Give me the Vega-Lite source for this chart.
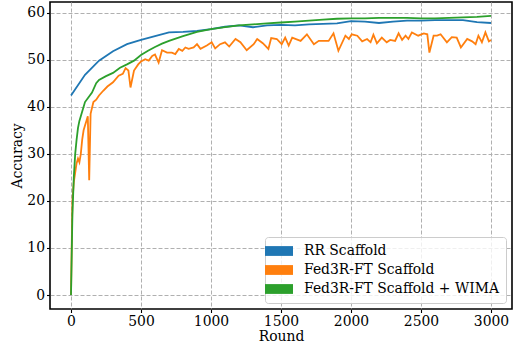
{
  "$schema": "https://vega.github.io/schema/vega-lite/v6.json",
  "width": 462,
  "height": 307,
  "autosize": {"type": "none"},
  "padding": {"left": 50, "top": 2, "right": 2, "bottom": 39},
  "background": "white",
  "data": {"values": [
    {"m":"RR Scaffold","r":0,"a":42.4},{"m":"RR Scaffold","r":100,"a":46.8},{"m":"RR Scaffold","r":200,"a":49.8},{"m":"RR Scaffold","r":300,"a":51.8},{"m":"RR Scaffold","r":400,"a":53.3},{"m":"RR Scaffold","r":500,"a":54.2},{"m":"RR Scaffold","r":600,"a":55.0},{"m":"RR Scaffold","r":700,"a":55.8},{"m":"RR Scaffold","r":800,"a":55.9},{"m":"RR Scaffold","r":900,"a":56.1},{"m":"RR Scaffold","r":1000,"a":56.5},{"m":"RR Scaffold","r":1100,"a":57.0},{"m":"RR Scaffold","r":1200,"a":57.3},{"m":"RR Scaffold","r":1300,"a":56.9},{"m":"RR Scaffold","r":1400,"a":57.3},{"m":"RR Scaffold","r":1500,"a":57.4},{"m":"RR Scaffold","r":1600,"a":57.3},{"m":"RR Scaffold","r":1700,"a":57.5},{"m":"RR Scaffold","r":1800,"a":57.6},{"m":"RR Scaffold","r":1900,"a":57.7},{"m":"RR Scaffold","r":2000,"a":58.2},{"m":"RR Scaffold","r":2100,"a":58.1},{"m":"RR Scaffold","r":2200,"a":57.8},{"m":"RR Scaffold","r":2300,"a":58.1},{"m":"RR Scaffold","r":2400,"a":58.3},{"m":"RR Scaffold","r":2500,"a":58.3},{"m":"RR Scaffold","r":2600,"a":58.4},{"m":"RR Scaffold","r":2700,"a":58.4},{"m":"RR Scaffold","r":2800,"a":58.4},{"m":"RR Scaffold","r":2900,"a":58.0},{"m":"RR Scaffold","r":3000,"a":57.8},
    {"m":"Fed3R-FT Scaffold","r":0,"a":0},{"m":"Fed3R-FT Scaffold","r":10,"a":20},{"m":"Fed3R-FT Scaffold","r":20,"a":24},{"m":"Fed3R-FT Scaffold","r":30,"a":26},{"m":"Fed3R-FT Scaffold","r":40,"a":28},{"m":"Fed3R-FT Scaffold","r":50,"a":29},{"m":"Fed3R-FT Scaffold","r":60,"a":28.2},{"m":"Fed3R-FT Scaffold","r":70,"a":30},{"m":"Fed3R-FT Scaffold","r":80,"a":33},{"m":"Fed3R-FT Scaffold","r":90,"a":35},{"m":"Fed3R-FT Scaffold","r":100,"a":36},{"m":"Fed3R-FT Scaffold","r":110,"a":37},{"m":"Fed3R-FT Scaffold","r":120,"a":38},{"m":"Fed3R-FT Scaffold","r":130,"a":24.4},{"m":"Fed3R-FT Scaffold","r":140,"a":38.5},{"m":"Fed3R-FT Scaffold","r":160,"a":41},{"m":"Fed3R-FT Scaffold","r":180,"a":41.5},{"m":"Fed3R-FT Scaffold","r":200,"a":42.4},{"m":"Fed3R-FT Scaffold","r":230,"a":43.4},{"m":"Fed3R-FT Scaffold","r":260,"a":44.3},{"m":"Fed3R-FT Scaffold","r":300,"a":45.2},{"m":"Fed3R-FT Scaffold","r":340,"a":46.6},{"m":"Fed3R-FT Scaffold","r":370,"a":47.0},{"m":"Fed3R-FT Scaffold","r":390,"a":48.2},{"m":"Fed3R-FT Scaffold","r":410,"a":47.7},{"m":"Fed3R-FT Scaffold","r":425,"a":44.1},{"m":"Fed3R-FT Scaffold","r":450,"a":47.7},{"m":"Fed3R-FT Scaffold","r":480,"a":49.0},{"m":"Fed3R-FT Scaffold","r":500,"a":49.6},{"m":"Fed3R-FT Scaffold","r":530,"a":50.1},{"m":"Fed3R-FT Scaffold","r":555,"a":49.8},{"m":"Fed3R-FT Scaffold","r":580,"a":50.8},{"m":"Fed3R-FT Scaffold","r":600,"a":51.1},{"m":"Fed3R-FT Scaffold","r":626,"a":49.4},{"m":"Fed3R-FT Scaffold","r":650,"a":52.0},{"m":"Fed3R-FT Scaffold","r":686,"a":51.5},{"m":"Fed3R-FT Scaffold","r":720,"a":51.5},{"m":"Fed3R-FT Scaffold","r":745,"a":51.2},{"m":"Fed3R-FT Scaffold","r":770,"a":52.3},{"m":"Fed3R-FT Scaffold","r":795,"a":51.9},{"m":"Fed3R-FT Scaffold","r":817,"a":52.6},{"m":"Fed3R-FT Scaffold","r":840,"a":52.3},{"m":"Fed3R-FT Scaffold","r":876,"a":52.6},{"m":"Fed3R-FT Scaffold","r":900,"a":53.3},{"m":"Fed3R-FT Scaffold","r":925,"a":52.3},{"m":"Fed3R-FT Scaffold","r":970,"a":53.0},{"m":"Fed3R-FT Scaffold","r":1005,"a":53.7},{"m":"Fed3R-FT Scaffold","r":1030,"a":52.4},{"m":"Fed3R-FT Scaffold","r":1065,"a":53.3},{"m":"Fed3R-FT Scaffold","r":1100,"a":53.7},{"m":"Fed3R-FT Scaffold","r":1130,"a":52.8},{"m":"Fed3R-FT Scaffold","r":1175,"a":54.4},{"m":"Fed3R-FT Scaffold","r":1210,"a":53.7},{"m":"Fed3R-FT Scaffold","r":1255,"a":52.0},{"m":"Fed3R-FT Scaffold","r":1305,"a":53.3},{"m":"Fed3R-FT Scaffold","r":1330,"a":54.4},{"m":"Fed3R-FT Scaffold","r":1370,"a":53.5},{"m":"Fed3R-FT Scaffold","r":1410,"a":52.3},{"m":"Fed3R-FT Scaffold","r":1430,"a":54.6},{"m":"Fed3R-FT Scaffold","r":1470,"a":54.4},{"m":"Fed3R-FT Scaffold","r":1505,"a":53.3},{"m":"Fed3R-FT Scaffold","r":1530,"a":54.7},{"m":"Fed3R-FT Scaffold","r":1555,"a":53.0},{"m":"Fed3R-FT Scaffold","r":1580,"a":54.7},{"m":"Fed3R-FT Scaffold","r":1640,"a":54.0},{"m":"Fed3R-FT Scaffold","r":1685,"a":55.4},{"m":"Fed3R-FT Scaffold","r":1735,"a":53.3},{"m":"Fed3R-FT Scaffold","r":1770,"a":54.0},{"m":"Fed3R-FT Scaffold","r":1840,"a":54.0},{"m":"Fed3R-FT Scaffold","r":1875,"a":55.6},{"m":"Fed3R-FT Scaffold","r":1910,"a":51.9},{"m":"Fed3R-FT Scaffold","r":1960,"a":55.1},{"m":"Fed3R-FT Scaffold","r":1985,"a":54.4},{"m":"Fed3R-FT Scaffold","r":2005,"a":55.4},{"m":"Fed3R-FT Scaffold","r":2045,"a":55.1},{"m":"Fed3R-FT Scaffold","r":2080,"a":53.9},{"m":"Fed3R-FT Scaffold","r":2115,"a":54.4},{"m":"Fed3R-FT Scaffold","r":2140,"a":53.7},{"m":"Fed3R-FT Scaffold","r":2160,"a":55.3},{"m":"Fed3R-FT Scaffold","r":2185,"a":53.5},{"m":"Fed3R-FT Scaffold","r":2220,"a":54.7},{"m":"Fed3R-FT Scaffold","r":2255,"a":53.7},{"m":"Fed3R-FT Scaffold","r":2280,"a":54.2},{"m":"Fed3R-FT Scaffold","r":2315,"a":54.0},{"m":"Fed3R-FT Scaffold","r":2340,"a":55.6},{"m":"Fed3R-FT Scaffold","r":2365,"a":54.2},{"m":"Fed3R-FT Scaffold","r":2390,"a":55.1},{"m":"Fed3R-FT Scaffold","r":2410,"a":54.4},{"m":"Fed3R-FT Scaffold","r":2435,"a":55.8},{"m":"Fed3R-FT Scaffold","r":2480,"a":55.1},{"m":"Fed3R-FT Scaffold","r":2520,"a":55.6},{"m":"Fed3R-FT Scaffold","r":2545,"a":55.4},{"m":"Fed3R-FT Scaffold","r":2560,"a":51.5},{"m":"Fed3R-FT Scaffold","r":2590,"a":55.1},{"m":"Fed3R-FT Scaffold","r":2615,"a":55.1},{"m":"Fed3R-FT Scaffold","r":2640,"a":55.4},{"m":"Fed3R-FT Scaffold","r":2685,"a":53.7},{"m":"Fed3R-FT Scaffold","r":2720,"a":54.8},{"m":"Fed3R-FT Scaffold","r":2755,"a":54.7},{"m":"Fed3R-FT Scaffold","r":2785,"a":52.6},{"m":"Fed3R-FT Scaffold","r":2830,"a":54.4},{"m":"Fed3R-FT Scaffold","r":2865,"a":53.9},{"m":"Fed3R-FT Scaffold","r":2890,"a":53.3},{"m":"Fed3R-FT Scaffold","r":2910,"a":55.1},{"m":"Fed3R-FT Scaffold","r":2935,"a":53.7},{"m":"Fed3R-FT Scaffold","r":2960,"a":55.8},{"m":"Fed3R-FT Scaffold","r":2985,"a":53.9},{"m":"Fed3R-FT Scaffold","r":3000,"a":54.2},
    {"m":"Fed3R-FT Scaffold + WIMA","r":0,"a":0},{"m":"Fed3R-FT Scaffold + WIMA","r":10,"a":17},{"m":"Fed3R-FT Scaffold + WIMA","r":20,"a":25},{"m":"Fed3R-FT Scaffold + WIMA","r":30,"a":30},{"m":"Fed3R-FT Scaffold + WIMA","r":40,"a":33},{"m":"Fed3R-FT Scaffold + WIMA","r":50,"a":35.5},{"m":"Fed3R-FT Scaffold + WIMA","r":60,"a":37},{"m":"Fed3R-FT Scaffold + WIMA","r":80,"a":39},{"m":"Fed3R-FT Scaffold + WIMA","r":100,"a":41},{"m":"Fed3R-FT Scaffold + WIMA","r":120,"a":41.8},{"m":"Fed3R-FT Scaffold + WIMA","r":150,"a":43},{"m":"Fed3R-FT Scaffold + WIMA","r":180,"a":45},{"m":"Fed3R-FT Scaffold + WIMA","r":200,"a":45.7},{"m":"Fed3R-FT Scaffold + WIMA","r":250,"a":46.5},{"m":"Fed3R-FT Scaffold + WIMA","r":300,"a":47.2},{"m":"Fed3R-FT Scaffold + WIMA","r":350,"a":48.3},{"m":"Fed3R-FT Scaffold + WIMA","r":400,"a":49.0},{"m":"Fed3R-FT Scaffold + WIMA","r":450,"a":49.8},{"m":"Fed3R-FT Scaffold + WIMA","r":500,"a":51.0},{"m":"Fed3R-FT Scaffold + WIMA","r":550,"a":51.9},{"m":"Fed3R-FT Scaffold + WIMA","r":600,"a":52.7},{"m":"Fed3R-FT Scaffold + WIMA","r":650,"a":53.4},{"m":"Fed3R-FT Scaffold + WIMA","r":700,"a":54.0},{"m":"Fed3R-FT Scaffold + WIMA","r":800,"a":55.0},{"m":"Fed3R-FT Scaffold + WIMA","r":900,"a":55.9},{"m":"Fed3R-FT Scaffold + WIMA","r":1000,"a":56.5},{"m":"Fed3R-FT Scaffold + WIMA","r":1100,"a":56.9},{"m":"Fed3R-FT Scaffold + WIMA","r":1200,"a":57.3},{"m":"Fed3R-FT Scaffold + WIMA","r":1300,"a":57.5},{"m":"Fed3R-FT Scaffold + WIMA","r":1400,"a":57.7},{"m":"Fed3R-FT Scaffold + WIMA","r":1500,"a":57.9},{"m":"Fed3R-FT Scaffold + WIMA","r":1600,"a":58.1},{"m":"Fed3R-FT Scaffold + WIMA","r":1700,"a":58.3},{"m":"Fed3R-FT Scaffold + WIMA","r":1800,"a":58.5},{"m":"Fed3R-FT Scaffold + WIMA","r":1900,"a":58.7},{"m":"Fed3R-FT Scaffold + WIMA","r":2000,"a":58.8},{"m":"Fed3R-FT Scaffold + WIMA","r":2100,"a":58.8},{"m":"Fed3R-FT Scaffold + WIMA","r":2200,"a":58.9},{"m":"Fed3R-FT Scaffold + WIMA","r":2300,"a":58.9},{"m":"Fed3R-FT Scaffold + WIMA","r":2400,"a":58.9},{"m":"Fed3R-FT Scaffold + WIMA","r":2500,"a":58.8},{"m":"Fed3R-FT Scaffold + WIMA","r":2600,"a":58.8},{"m":"Fed3R-FT Scaffold + WIMA","r":2700,"a":58.9},{"m":"Fed3R-FT Scaffold + WIMA","r":2800,"a":59.0},{"m":"Fed3R-FT Scaffold + WIMA","r":2900,"a":59.1},{"m":"Fed3R-FT Scaffold + WIMA","r":3000,"a":59.3}
  ]},
  "mark": {"type": "line", "strokeWidth": 1.8, "clip": true},
  "encoding": {
    "x": {"field": "r", "type": "quantitative", "scale": {"domain": [-150, 3150], "nice": false, "zero": false},
      "axis": {"title": "Round", "values": [0,500,1000,1500,2000,2500,3000], "format": "d", "labelFlush": false, "labelOverlap": false, "titlePadding": 1}},
    "y": {"field": "a", "type": "quantitative", "scale": {"domain": [-2.97, 62.26], "nice": false, "zero": false},
      "axis": {"title": "Accuracy", "values": [0,10,20,30,40,50,60], "labelOverlap": false, "titlePadding": 2}},
    "color": {"field": "m", "type": "nominal", "sort": null,
      "scale": {"domain": ["RR Scaffold","Fed3R-FT Scaffold","Fed3R-FT Scaffold + WIMA"], "range": ["#1f77b4","#ff7f0e","#2ca02c"]},
      "legend": {"title": null, "orient": "bottom-right", "offset": 6,
        "symbolType": "M-2,-0.7H2V0.7H-2Z", "symbolSize": 196, "labelOffset": 18, "labelLimit": 400,
        "labelFont": "DejaVu Serif, serif", "labelFontSize": 13.9, "labelColor": "black",
        "rowPadding": 5, "padding": 7, "fillColor": "rgba(255,255,255,0.8)", "strokeColor": "#cccccc", "cornerRadius": 3,
        "encode": {"symbols": {"update": {"fill": {"scale": "color", "field": "value"}, "strokeWidth": {"value": 0}, "opacity": {"value": 1}}},
                   "labels": {"update": {"font": {"value": "DejaVu Serif, serif"}, "fontSize": {"value": 13.9}}}}}
    }
  },
  "config": {
    "font": "DejaVu Serif",
    "style": {"guide-label": {"font": "DejaVu Serif"}, "guide-title": {"font": "DejaVu Serif"}},
    "view": {"stroke": "black", "strokeWidth": 1.6},
    "legend": {"labelFont": "DejaVu Serif, serif", "labelFontSize": 13.9},
    "axis": {"labelFont": "DejaVu Serif", "labelFontSize": 13.9, "labelColor": "black", "titleFont": "DejaVu Serif", "titleFontSize": 13.9, "titleFontWeight": "normal", "titleColor": "black",
      "grid": true, "gridColor": "#b0b0b0", "gridDash": [4, 2], "gridWidth": 1, "domain": false, "tickColor": "black", "tickSize": 3.5, "tickWidth": 1.1, "labelPadding": 2}
  }
}
